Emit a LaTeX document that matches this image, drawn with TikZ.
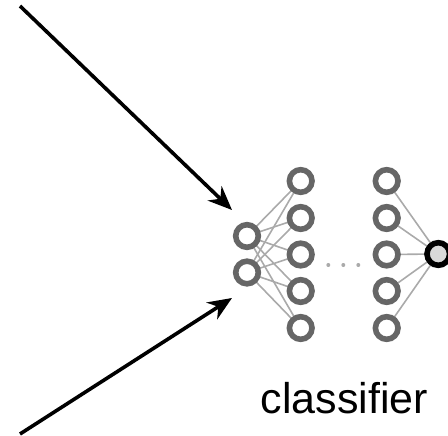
\documentclass[tikz,border=0pt]{standalone}
\usepackage{fontspec}
\setmainfont{Liberation Sans}
\usetikzlibrary{arrows.meta,backgrounds}
\definecolor{nodegray}{HTML}{666666}
\definecolor{edgegray}{HTML}{AAAAAA}
\definecolor{outfill}{HTML}{D9D9D9}
\begin{document}
\begin{tikzpicture}[x=1pt,y=-1pt,
  neuron/.style={circle,draw=nodegray,line width=5.6pt,fill=white,minimum size=22.6pt,inner sep=0pt},
  outneuron/.style={circle,draw=black,line width=5.6pt,fill=outfill,minimum size=22.6pt,inner sep=0pt},
  edge/.style={draw=edgegray,line width=1.6pt},
  bigarrow/.style={draw=black,line width=3.6pt,-{Stealth[length=24pt,width=20pt]}},
  dotnode/.style={circle,fill=edgegray,minimum size=4pt,inner sep=0pt}]
\useasboundingbox (0,0) rectangle (448,436);
% input layer
\node[neuron] (i1) at (247,236) {};
\node[neuron] (i2) at (247,272.5) {};
% hidden layers
\foreach \k/\y in {1/181,2/218,3/254.5,4/291,5/328}{
  \node[neuron] (a\k) at (300.7,\y) {};
  \node[neuron] (b\k) at (386.7,\y) {};
}
\node[outneuron] (o) at (438.3,254) {};
% edges behind nodes
\begin{pgfonlayer}{background}
\foreach \i in {1,2}{
  \foreach \k in {1,...,5}{
    \draw[edge] (i\i.center) -- (a\k.center);
  }
}
\foreach \k in {1,...,5}{
  \draw[edge] (b\k.center) -- (o.center);
}
\end{pgfonlayer}
% dots
\node[dotnode] (d1) at (328.3,265) {};
\node[dotnode] (d2) at (343.3,265) {};
\node[dotnode] (d3) at (358.3,265) {};
% arrows
\coordinate (s1) at (20,6);
\coordinate (t1) at (232,210);
\coordinate (s2) at (20,434);
\coordinate (t2) at (232,298);
\draw[bigarrow] (s1) -- (t1);
\draw[bigarrow] (s2) -- (t2);
% label
\node[anchor=base,font=\fontsize{43}{50}\selectfont,inner sep=0pt] (lbl) at (344.5,413) {classifier};
\end{tikzpicture}
\end{document}
